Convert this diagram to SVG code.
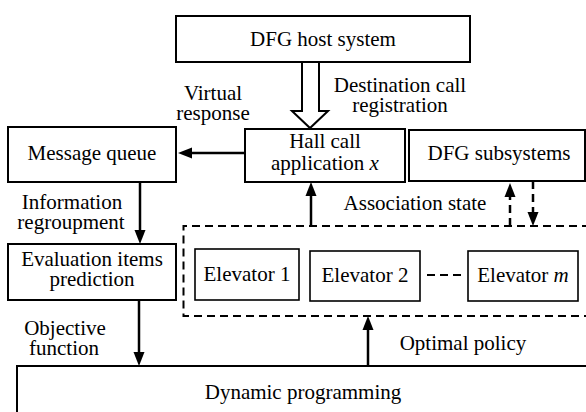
<svg xmlns="http://www.w3.org/2000/svg" width="586" height="412" viewBox="0 0 586 412">
<style>
.box{fill:#fff;stroke:#000;stroke-width:2}
.ebox{fill:#fff;stroke:#000;stroke-width:1.6}
.dbox{fill:none;stroke:#000;stroke-width:2;stroke-dasharray:8 5}
text{font-family:"Liberation Serif","Times New Roman",serif;font-size:21px;fill:#000;text-anchor:middle}
.ln{stroke:#000;stroke-width:2.5;fill:none}
.dl{stroke:#000;stroke-width:2.5;fill:none;stroke-dasharray:8 5}
.hollow{fill:#fff;stroke:#000;stroke-width:2;stroke-linejoin:miter}
</style>
<defs>
<marker id="ah" markerUnits="userSpaceOnUse" markerWidth="14" markerHeight="12" refX="6" refY="6" orient="auto" viewBox="0 0 14 12">
<path d="M0,0.5 L14,6 L0,11.5 z" fill="#000"/>
</marker>
</defs>
<rect x="0" y="0" width="586" height="412" fill="#fff"/>

<g id="host"><rect class="box" x="176" y="16" width="294" height="46"/><text x="323" y="46">DFG host system</text></g>
<g id="hall"><rect class="box" x="245" y="129" width="160" height="53"/><text x="325" y="148">Hall call</text><text x="325" y="170">application <tspan font-style="italic">x</tspan></text></g>
<g id="subsystems"><rect class="box" x="409" y="130" width="176" height="51"/><text x="499" y="160">DFG subsystems</text></g>
<g id="msgqueue"><rect class="box" x="8" y="127" width="168" height="55"/><text x="92" y="160">Message queue</text></g>
<g id="evaluation"><rect class="box" x="8" y="244" width="168" height="56"/><text x="92" y="266">Evaluation items</text><text x="92" y="286">prediction</text></g>
<g id="elevators"><path class="dbox" d="M590,226 H183.5 V316 H590"/></g>
<g id="elevator1"><rect class="ebox" x="195" y="249" width="104" height="51"/><text x="247" y="281">Elevator 1</text></g>
<g id="elevator2"><rect class="ebox" x="310" y="251" width="110" height="50"/><text x="365" y="282">Elevator 2</text></g>
<g id="elevatorm"><rect class="ebox" x="468" y="251" width="110" height="50"/><text x="523" y="282">Elevator <tspan font-style="italic">m</tspan></text></g>
<g id="dynamic"><rect class="box" x="17" y="366" width="580" height="60"/><text x="303" y="399">Dynamic programming</text></g>

<g id="connectors">
<polygon class="hollow" points="302,62 319,62 319,111 328,111 310,128 292,111 302,111"/>
<line class="ln" x1="245" y1="153" x2="186" y2="153" marker-end="url(#ah)"/>
<line class="ln" x1="140" y1="182" x2="140" y2="236" marker-end="url(#ah)"/>
<line class="ln" x1="311" y1="226" x2="311" y2="190" marker-end="url(#ah)"/>
<line class="dl" x1="510" y1="226" x2="510" y2="191" marker-end="url(#ah)"/>
<line class="dl" x1="533" y1="181" x2="533" y2="218" marker-end="url(#ah)"/>
<line class="ln" x1="139" y1="300" x2="139" y2="358" marker-end="url(#ah)"/>
<line class="ln" x1="368" y1="366" x2="368" y2="324" marker-end="url(#ah)"/>
<line stroke="#000" stroke-width="2" stroke-dasharray="8 5" x1="427" y1="275" x2="462" y2="275"/>
</g>

<g id="labels">
<text x="213" y="100">Virtual</text><text x="213" y="120">response</text>
<text x="400" y="92">Destination call</text><text x="400" y="112">registration</text>
<text x="72" y="209">Information</text><text x="71" y="229">regroupment</text>
<text x="415" y="210">Association state</text>
<text x="65" y="335">Objective</text><text x="64" y="355">function</text>
<text x="463" y="350">Optimal policy</text>
</g>
</svg>
